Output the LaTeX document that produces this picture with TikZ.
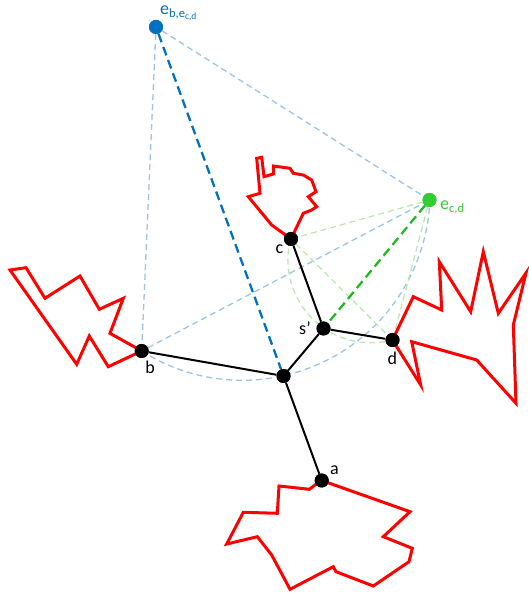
\documentclass[tikz,border=0pt]{standalone}
\usepackage{fontspec}
\setmainfont{Carlito}
\definecolor{eblue}{HTML}{0070C0}
\definecolor{lblue}{HTML}{9DC3E6}
\definecolor{egreen}{HTML}{33CC33}
\definecolor{hgreen}{HTML}{22B822}
\definecolor{lgreen}{HTML}{BFE6B0}
\tikzset{
  dot/.style={circle, fill=black, inner sep=0pt, minimum size=14pt},
  edge/.style={line width=2pt, black},
  redpoly/.style={line width=3pt, red, line join=miter},
  lbluedash/.style={line width=1.3pt, lblue, dash pattern=on 6pt off 4pt},
  lgreendash/.style={line width=1.3pt, lgreen, dash pattern=on 6pt off 4pt},
  hbluedash/.style={line width=2.3pt, eblue, dash pattern=on 9pt off 5pt},
  hgreendash/.style={line width=2.3pt, hgreen, dash pattern=on 9pt off 5pt},
  lab/.style={inner sep=0pt, font=\fontsize{18}{21}\selectfont}
}
\begin{document}
\begin{tikzpicture}[x=1pt,y=1pt]
\useasboundingbox (0,0) rectangle (528,594);
% nodes
\node[dot, fill=eblue] (eb) at (156,567) {};
\node[dot, fill=egreen] (ecd) at (429.5,394) {};
\node[dot] (c) at (291,355) {};
\node[dot] (s) at (323.5,265.5) {};
\node[dot] (d) at (392.5,254) {};
\node[dot] (b) at (141.7,243) {};
\node[dot] (m) at (283.5,218) {};
\node[dot] (a) at (321.7,113.5) {};
% light dashed lines
\draw[lbluedash] (eb) -- (b);
\draw[lbluedash] (eb) -- (ecd);
\draw[lbluedash] (b) -- (ecd);
\draw[lbluedash] (242.4,401.3) ++(-122.5:187.6) arc[start angle=-122.5, end angle=-2.2, radius=187.6];
\draw[lgreendash] (ecd) -- (c);
\draw[lgreendash] (ecd) -- (d);
\draw[lgreendash] (c) -- (d);
\draw[lgreendash] (371,334.3) ++(165.5:83.1) arc[start angle=165.5, end angle=285, radius=83.1];
% heavy dashed lines
\draw[hbluedash] (eb) -- (m);
\draw[hgreendash] (ecd) -- (s);
% red polygons
\draw[redpoly] (b.center) -- (110,260.7) -- (123.3,295.7) -- (99.3,284.7) -- (80,318) -- (45,295.7) -- (26,326.3) -- (10,324) -- (76.7,229.7) -- (89.3,258) -- (108.3,227.3) -- cycle;
\draw[redpoly] (c.center) -- (271.7,369) -- (248.3,397.3) -- (260,400.7) -- (256.7,435.7) -- (261.7,436.7) -- (264,417.3) -- (273.3,420) -- (273.3,428) -- (290,425.7) -- (293.3,420.7) -- (303.3,419) -- (311.7,414) -- (316,402.3) -- (308.3,397.3) -- (316.7,387.3) -- (311.7,384) -- (303.3,380.7) -- cycle;
\draw[redpoly] (d.center) -- (413.3,297.3) -- (441.7,284) -- (439.3,332.3) -- (470.7,282.3) -- (483.3,342.3) -- (498.3,280.7) -- (526,321) -- (513.3,269) -- (516,190.7) -- (476.7,234) -- (411.7,252.3) -- (420.7,209) -- cycle;
\draw[redpoly] (a.center) -- (410,82.3) -- (383.3,57.3) -- (412.3,45.7) -- (409,32.3) -- (373.3,8) -- (336,22.3) -- (333.3,27.3) -- (290,4.7) -- (271.7,39) -- (257.3,57.3) -- (226.7,50) -- (243.3,81.7) -- (277.3,80.7) -- (279,108) -- (309.3,104.7) -- (315,109) -- cycle;
% tree edges
\draw[edge] (b) -- (m);
\draw[edge] (m) -- (a);
\draw[edge] (m) -- (s);
\draw[edge] (s) -- (c);
\draw[edge] (s) -- (d);
% redraw dots on top
\foreach \n in {c,s,d,b,m,a} \fill (\n) circle (7pt);
\fill[eblue] (eb) circle (7pt);
\fill[egreen] (ecd) circle (7pt);
% labels
\node[lab, anchor=base] (lb) at (150,220) {b};
\node[lab, anchor=base] (la) at (334.5,119) {a};
\node[lab, anchor=base] (lc) at (279.5,340.7) {c};
\node[lab, anchor=base] (ls) at (305,259) {s’};
\node[lab, anchor=base] (ld) at (392.3,229) {d};
\node[lab, anchor=base west, text=egreen] (lecd) at (440,384) {e\raisebox{-0.3ex}{\fontsize{12.5}{13}\selectfont c,d}};
\node[lab, anchor=base west, text=eblue] (leb) at (160,579) {e\raisebox{-0.3ex}{\fontsize{12.5}{13}\selectfont b,e\raisebox{-0.25ex}{\fontsize{9.5}{10}\selectfont c,d}}};
\end{tikzpicture}
\end{document}
